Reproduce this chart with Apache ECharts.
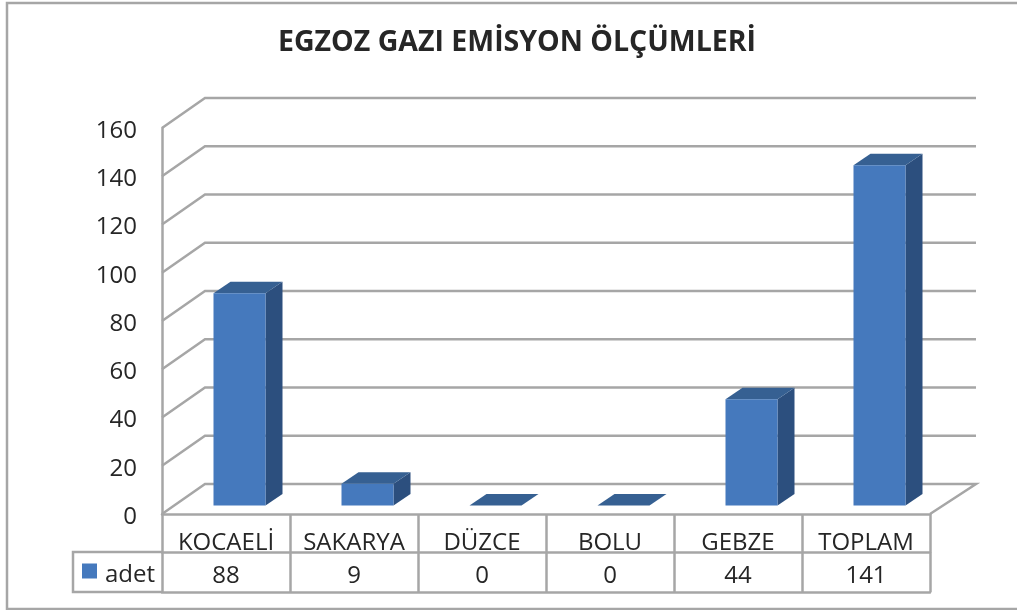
<!DOCTYPE html>
<html>
<head>
<meta charset="utf-8">
<style>
  html, body { margin: 0; padding: 0; background: #fff; }
  #main { width: 1017px; height: 610px; }
</style>
<script src="https://cdn.jsdelivr.net/npm/echarts@6/dist/echarts.min.js"></script>
</head>
<body>
<div id="main"></div>
<script>
const categories = ['KOCAELİ', 'SAKARYA', 'DÜZCE', 'BOLU', 'GEBZE', 'TOPLAM']
const values = [88, 9, 0, 0, 44, 141]
const yTicks = [0, 20, 40, 60, 80, 100, 120, 140, 160]
const seriesName = 'adet'
const chartTitle = 'EGZOZ GAZI EMİSYON ÖLÇÜMLERİ'

const FONT = '"Open Sans", sans-serif'
const TEXT = '#262626'
const LINE = '#a6a6a6'
const FRONT = '#4579bd'
const SIDE = '#2c4f7e'
const TOP = '#366092'
// fake 3d: how far the back wall is shifted from the front plane
const WALL_DX = 43
const WALL_DY = -30
const BAR_SHIFT_X = 13.5
const BAR_SHIFT_Y = -8.5
const BAR_DX = 17
const BAR_DY = -11.5
const BAR_W = 52

const chart = echarts.init(document.getElementById('main'))

const renderWalls = (params, api) => {
  const tick = api.value(0)
  const left = api.coord([0, tick])
  const width = api.size([1, 0])[0] * categories.length
  const x0 = left[0] - api.size([1, 0])[0] / 2
  const y0 = left[1]
  const points = [[x0, y0], [x0 + WALL_DX, y0 + WALL_DY], [x0 + width + WALL_DX + 3, y0 + WALL_DY]]
  if (tick === 0) points.push([x0 + width, y0])
  return {
    type: 'polyline',
    shape: { points },
    style: { stroke: LINE, lineWidth: 2.5, fill: null }
  }
}

const renderBar = (params, api) => {
  const base = api.coord([api.value(0), 0])
  const top = api.coord([api.value(0), api.value(1)])
  const x1 = base[0] + BAR_SHIFT_X - BAR_W / 2
  const x2 = x1 + BAR_W
  const yb = base[1] + BAR_SHIFT_Y
  const yt = top[1] + BAR_SHIFT_Y
  return {
    type: 'group',
    children: [
      { type: 'polygon', shape: { points: [[x2, yt], [x2 + BAR_DX, yt + BAR_DY], [x2 + BAR_DX, yb + BAR_DY], [x2, yb]] }, style: { fill: SIDE } },
      { type: 'polygon', shape: { points: [[x1, yt], [x1 + BAR_DX, yt + BAR_DY], [x2 + BAR_DX, yt + BAR_DY], [x2, yt]] }, style: { fill: TOP } },
      { type: 'rect', shape: { x: x1, y: yt, width: BAR_W, height: yb - yt }, style: { fill: FRONT } }
    ]
  }
}

const option = {
  backgroundColor: '#fff',
  animation: false,
  title: {
    text: chartTitle,
    left: 512,
    top: 23,
    textAlign: 'center',
    textStyle: { fontFamily: FONT, fontSize: 28.5, fontWeight: 'bold', color: TEXT }
  },
  legend: {
    left: 77,
    top: 558,
    itemWidth: 15,
    itemHeight: 15,
    itemGap: 0,
    data: [{ name: seriesName, icon: 'rect' }],
    formatter: name => '{a|' + name + '}',
    textStyle: {
      rich: { a: { fontFamily: FONT, fontSize: 24, color: TEXT, padding: [8, 0, 0, 3] } }
    }
  },
  grid: { left: 162, top: 128, width: 768, height: 386 },
  xAxis: [
    {
      type: 'category',
      data: categories,
      axisLine: { lineStyle: { color: LINE, width: 2.5 } },
      axisTick: { show: true, length: 38, lineStyle: { color: LINE, width: 2.5 } },
      axisLabel: { margin: 17, interval: 0, fontFamily: FONT, fontSize: 24, color: TEXT }
    },
    {
      type: 'category',
      position: 'bottom',
      offset: 38,
      data: values.map(String),
      axisLine: { lineStyle: { color: LINE, width: 2.5 } },
      axisTick: { show: true, length: 40, lineStyle: { color: LINE, width: 2.5 } },
      axisLabel: { margin: 12, interval: 0, fontFamily: FONT, fontSize: 24, color: TEXT }
    },
    {
      type: 'category',
      position: 'bottom',
      offset: 78,
      data: categories,
      axisLine: { lineStyle: { color: LINE, width: 2.5 } },
      axisTick: { show: false },
      axisLabel: { show: false }
    }
  ],
  yAxis: {
    type: 'value',
    min: 0,
    max: 160,
    interval: 20,
    splitLine: { show: false },
    axisLine: { show: true, lineStyle: { color: LINE, width: 2.5 } },
    axisTick: { show: false },
    axisLabel: { margin: 25, fontFamily: FONT, fontSize: 24, color: TEXT, verticalAlign: 'top', lineHeight: 6 }
  },
  series: [
    {
      type: 'custom',
      name: 'walls',
      silent: true,
      clip: false,
      z: 1,
      data: yTicks.map(t => [t]),
      encode: { y: 0 },
      renderItem: renderWalls
    },
    {
      type: 'custom',
      name: seriesName,
      clip: false,
      z: 3,
      itemStyle: { color: FRONT },
      data: values.map((v, i) => [i, v]),
      encode: { x: 0, y: 1 },
      renderItem: renderBar
    }
  ],
  graphic: [
    // outer chart frame, runs off the right edge like the source
    { type: 'polyline', silent: true, z: 0, shape: { points: [[1030, 3], [7, 3], [7, 609], [1030, 609]] }, style: { fill: null, stroke: LINE, lineWidth: 2.5 } },
    // head cell of the data table
    { type: 'polyline', silent: true, z: 2, shape: { points: [[162, 552], [73, 552], [73, 592], [162, 592]] }, style: { fill: null, stroke: LINE, lineWidth: 2.5 } }
  ]
}

chart.setOption(option)
</script>
</body>
</html>
